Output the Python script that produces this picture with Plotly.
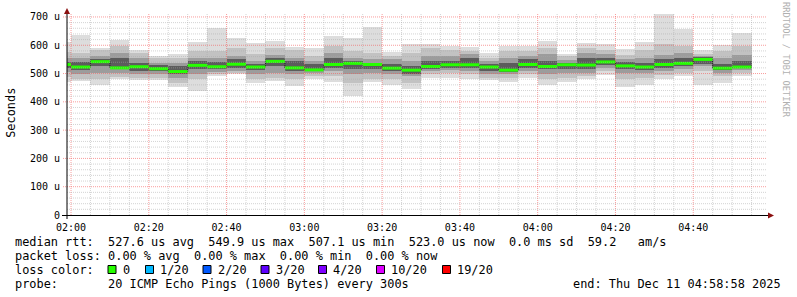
import plotly.graph_objects as go
import pandas as pd

# ---------------- data ----------------
bar_start = pd.date_range("2025-12-11 01:55:00", periods=36, freq="5min")
step = pd.Timedelta(minutes=5)
t_start = "2025-12-11 01:58:58"
t_end = "2025-12-11 04:58:58"

# median RTT per 5-min step (microseconds)
median_us = [532, 523, 542, 520, 524, 517, 507, 529, 524, 533,
             523, 543, 520, 513, 532, 536, 532, 519, 512, 525,
             531, 531, 523, 512, 532, 525, 531, 530, 541, 527,
             523, 532, 536, 549.9, 519, 523]

# smoke bands (outer -> inner), low / high bounds per step (microseconds)
band_a_hi = [610, 636, 591, 617, 585, 562, 568, 611, 662, 624, 609, 615, 594, 591, 632, 626, 666, 577,
             603, 603, 598, 594, 572, 599, 597, 614, 570, 607, 605, 588, 613, 709, 656, 583, 602, 644]
band_a_lo = [470, 473, 460, 481, 477, 477, 451, 438, 490, 500, 465, 474, 455, 480, 471, 422, 471, 460,
             444, 483, 485, 480, 476, 470, 485, 460, 470, 479, 495, 452, 459, 482, 491, 458, 467, 490]
band_b_hi = [575, 573, 583, 597, 573, 556, 556, 579, 579, 591, 568, 591, 585, 562, 597, 579, 573, 562,
             573, 591, 585, 579, 556, 579, 579, 591, 562, 591, 585, 567, 585, 603, 597, 570, 579, 597]
band_b_lo = [488, 481, 481, 489, 485, 485, 467, 479, 500, 503, 479, 485, 479, 491, 491, 467, 479, 482,
             467, 497, 503, 497, 485, 485, 497, 479, 485, 491, 509, 479, 485, 494, 503, 509, 491, 503]
band_c_hi = [555, 556, 562, 573, 556, 538, 538, 556, 556, 562, 544, 564, 556, 544, 573, 556, 550, 550,
             544, 562, 562, 568, 544, 556, 562, 568, 547, 573, 570, 550, 556, 567, 573, 562, 556, 567]
band_c_lo = [505, 497, 503, 503, 497, 497, 485, 497, 505, 509, 497, 503, 497, 503, 509, 497, 503, 497,
             491, 509, 512, 509, 497, 497, 509, 497, 503, 503, 520, 503, 503, 509, 515, 526, 503, 511]
band_d_hi = [540, 540, 550, 556, 538, 529, 526, 544, 540, 550, 532, 556, 544, 532, 556, 544, 538, 532,
             526, 544, 544, 556, 532, 538, 550, 544, 538, 556, 556, 542, 538, 550, 556, 560, 535, 544]
band_d_lo = [518, 512, 526, 515, 509, 509, 497, 515, 515, 520, 512, 526, 509, 509, 520, 515, 515, 509,
             500, 515, 520, 520, 509, 505, 520, 515, 515, 515, 530, 515, 511, 520, 526, 532, 511, 518]

ytick_vals = [0, 100, 200, 300, 400, 500, 600, 700]
ytick_text = ["0", "100 u", "200 u", "300 u", "400 u", "500 u", "600 u", "700 u"]

loss_labels = ["0", "1/20", "2/20", "3/20", "4/20", "10/20", "19/20"]
loss_colors = ["#26ff00", "#00b8ff", "#0059ff", "#5e00ff", "#7e00ff", "#dd00ff", "#ff0000"]
loss_swatch_x = [108, 145.5, 203, 261, 318.5, 376.5, 442.5]

line1 = "median rtt:  527.6 us avg  549.9 us max  507.1 us min  523.0 us now  0.0 ms sd  59.2   am/s"
line2 = "packet loss: 0.00 % avg  0.00 % max  0.00 % min  0.00 % now"
line3 = "loss color:"
line4 = "probe:       20 ICMP Echo Pings (1000 Bytes) every 300s"
end_text = "end: Thu Dec 11 04:58:58 2025"
watermark = "RRDTOOL / TOBI OETIKER"
ylabel = "Seconds"

# ---------------- geometry helpers (pixel -> paper) ----------------
W, H = 797, 297
PL, PR, PT, PB = 67, 767, 13, 215


def pxx(x):
    return (x - PL) / (PR - PL)


def pxy(y):
    return (PB - y) / (PB - PT)


def nb(s):
    return s.replace(" ", "\u00a0")


MONO = "DejaVu Sans Mono"

fig = go.Figure()

bands = [(band_a_lo, band_a_hi, "#dddddd"),
         (band_b_lo, band_b_hi, "#c2c2c2"),
         (band_c_lo, band_c_hi, "#9c9c9c"),
         (band_d_lo, band_d_hi, "#5c5c5c")]
for lo, hi, col in bands:
    fig.add_trace(go.Bar(
        x=bar_start, base=lo, y=[h - l for h, l in zip(hi, lo)],
        width=300000, offset=0,
        marker=dict(color=col, line=dict(width=0)),
        hoverinfo="skip", showlegend=False))

# dark step line through medians
step_x = list(bar_start) + [bar_start[-1] + step]
step_y = list(median_us) + [median_us[-1]]
fig.add_trace(go.Scatter(x=step_x, y=step_y, mode="lines", line=dict(color="#202020", width=1, shape="hv"),
                         hoverinfo="skip", showlegend=False))

# green median segments (loss 0)
gx, gy = [], []
for t, m in zip(bar_start, median_us):
    gx += [t, t + step, None]
    gy += [m, m, None]
fig.add_trace(go.Scatter(x=gx, y=gy, mode="lines", line=dict(color="#26ff00", width=3),
                         hoverinfo="skip", showlegend=False))

shapes = []
MAJ = "rgba(245,90,90,0.6)"
MIN = "rgba(170,170,170,0.5)"
DASH = "1px,1px"
# vertical grid lines
grid_t = pd.date_range("2025-12-11 02:00:00", "2025-12-11 04:55:00", freq="5min")
for t in grid_t:
    major = (t.minute % 20 == 0)
    shapes.append(dict(type="line", xref="x", yref="paper", x0=t, x1=t, y0=0, y1=1,
                       line=dict(color=MAJ if major else MIN, width=1, dash=DASH), layer="above"))
# horizontal grid lines
for v in range(20, 720, 20):
    major = (v % 100 == 0)
    shapes.append(dict(type="line", xref="paper", yref="y", x0=pxx(63) if major else 0, x1=1, y0=v, y1=v,
                       line=dict(color=MAJ if major else MIN, width=1, dash=DASH), layer="above"))
# axes
shapes.append(dict(type="line", xref="paper", yref="paper", x0=pxx(62), x1=pxx(769), y0=pxy(215.5), y1=pxy(215.5),
                   line=dict(color="#000000", width=1), layer="above"))
shapes.append(dict(type="line", xref="paper", yref="paper", x0=pxx(67), x1=pxx(67), y0=pxy(219), y1=pxy(12),
                   line=dict(color="#000000", width=1), layer="above"))
# arrows
shapes.append(dict(type="path", xref="paper", yref="paper",
                   path=f"M {pxx(768)},{pxy(212.5)} L {pxx(774)},{pxy(215.5)} L {pxx(768)},{pxy(218.5)} Z",
                   fillcolor="#8b1010", line=dict(width=0), layer="above"))
shapes.append(dict(type="path", xref="paper", yref="paper",
                   path=f"M {pxx(64)},{pxy(14)} L {pxx(67)},{pxy(8)} L {pxx(70)},{pxy(14)} Z",
                   fillcolor="#8b1010", line=dict(width=0), layer="above"))
# loss colour swatches
for sx, col in zip(loss_swatch_x, loss_colors):
    shapes.append(dict(type="rect", xref="paper", yref="paper", x0=pxx(sx), x1=pxx(sx + 8),
                       y0=pxy(265.5), y1=pxy(273.5), fillcolor=col, line=dict(color="#000000", width=1),
                       layer="above"))

ann = []
LS = 11.9
ann_common = dict(xref="paper", yref="paper", showarrow=False, borderpad=0, borderwidth=0,
                  yanchor="middle")
for txt, yc in [(line1, 241.8), (line2, 255.6), (line3, 269.6), (line4, 283.6)]:
    ann.append(dict(text=nb(txt), x=pxx(15), y=pxy(yc), xanchor="left",
                    font=dict(family=MONO, size=LS, color="#000000"), **ann_common))
ann.append(dict(text=nb(end_text), x=pxx(781), y=pxy(283.6), xanchor="right",
                font=dict(family=MONO, size=LS, color="#000000"), **ann_common))
for sx, lab in zip(loss_swatch_x, loss_labels):
    ann.append(dict(text=nb(lab), x=pxx(sx + 14.5), y=pxy(269.6), xanchor="left",
                    font=dict(family=MONO, size=LS, color="#000000"), **ann_common))
ann.append(dict(text=ylabel, x=pxx(10.8), y=pxy(113), xanchor="center", textangle=-90,
                font=dict(family=MONO, size=LS, color="#000000"),
                xref="paper", yref="paper", showarrow=False, yanchor="middle"))
ann.append(dict(text=nb(watermark), x=pxx(786), y=pxy(60), xanchor="center", textangle=90,
                font=dict(family=MONO, size=8.7, color="#b0b0b0"),
                xref="paper", yref="paper", showarrow=False, yanchor="middle"))

fig.update_layout(
    width=W, height=H, autosize=False,
    margin=dict(l=PL, r=W - PR, t=PT, b=H - PB, pad=0),
    paper_bgcolor="white", plot_bgcolor="white",
    barmode="overlay", bargap=0, showlegend=False,
    xaxis=dict(type="date", range=[t_start, t_end], showgrid=False, zeroline=False, showline=False,
               tickformat="%H:%M", tick0="2025-12-11 02:00:00", dtick=1200000, ticks="",
               ticklabelstandoff=5,
               tickfont=dict(family=MONO, size=10, color="#000000"), fixedrange=True),
    yaxis=dict(range=[0, 714], tickmode="array", tickvals=ytick_vals, ticktext=ytick_text,
               showgrid=False, zeroline=False, showline=False, ticks="", ticklabelstandoff=6,
               tickfont=dict(family=MONO, size=10, color="#000000"), fixedrange=True),
    shapes=shapes, annotations=ann,
)

fig.write_html("out.html")
